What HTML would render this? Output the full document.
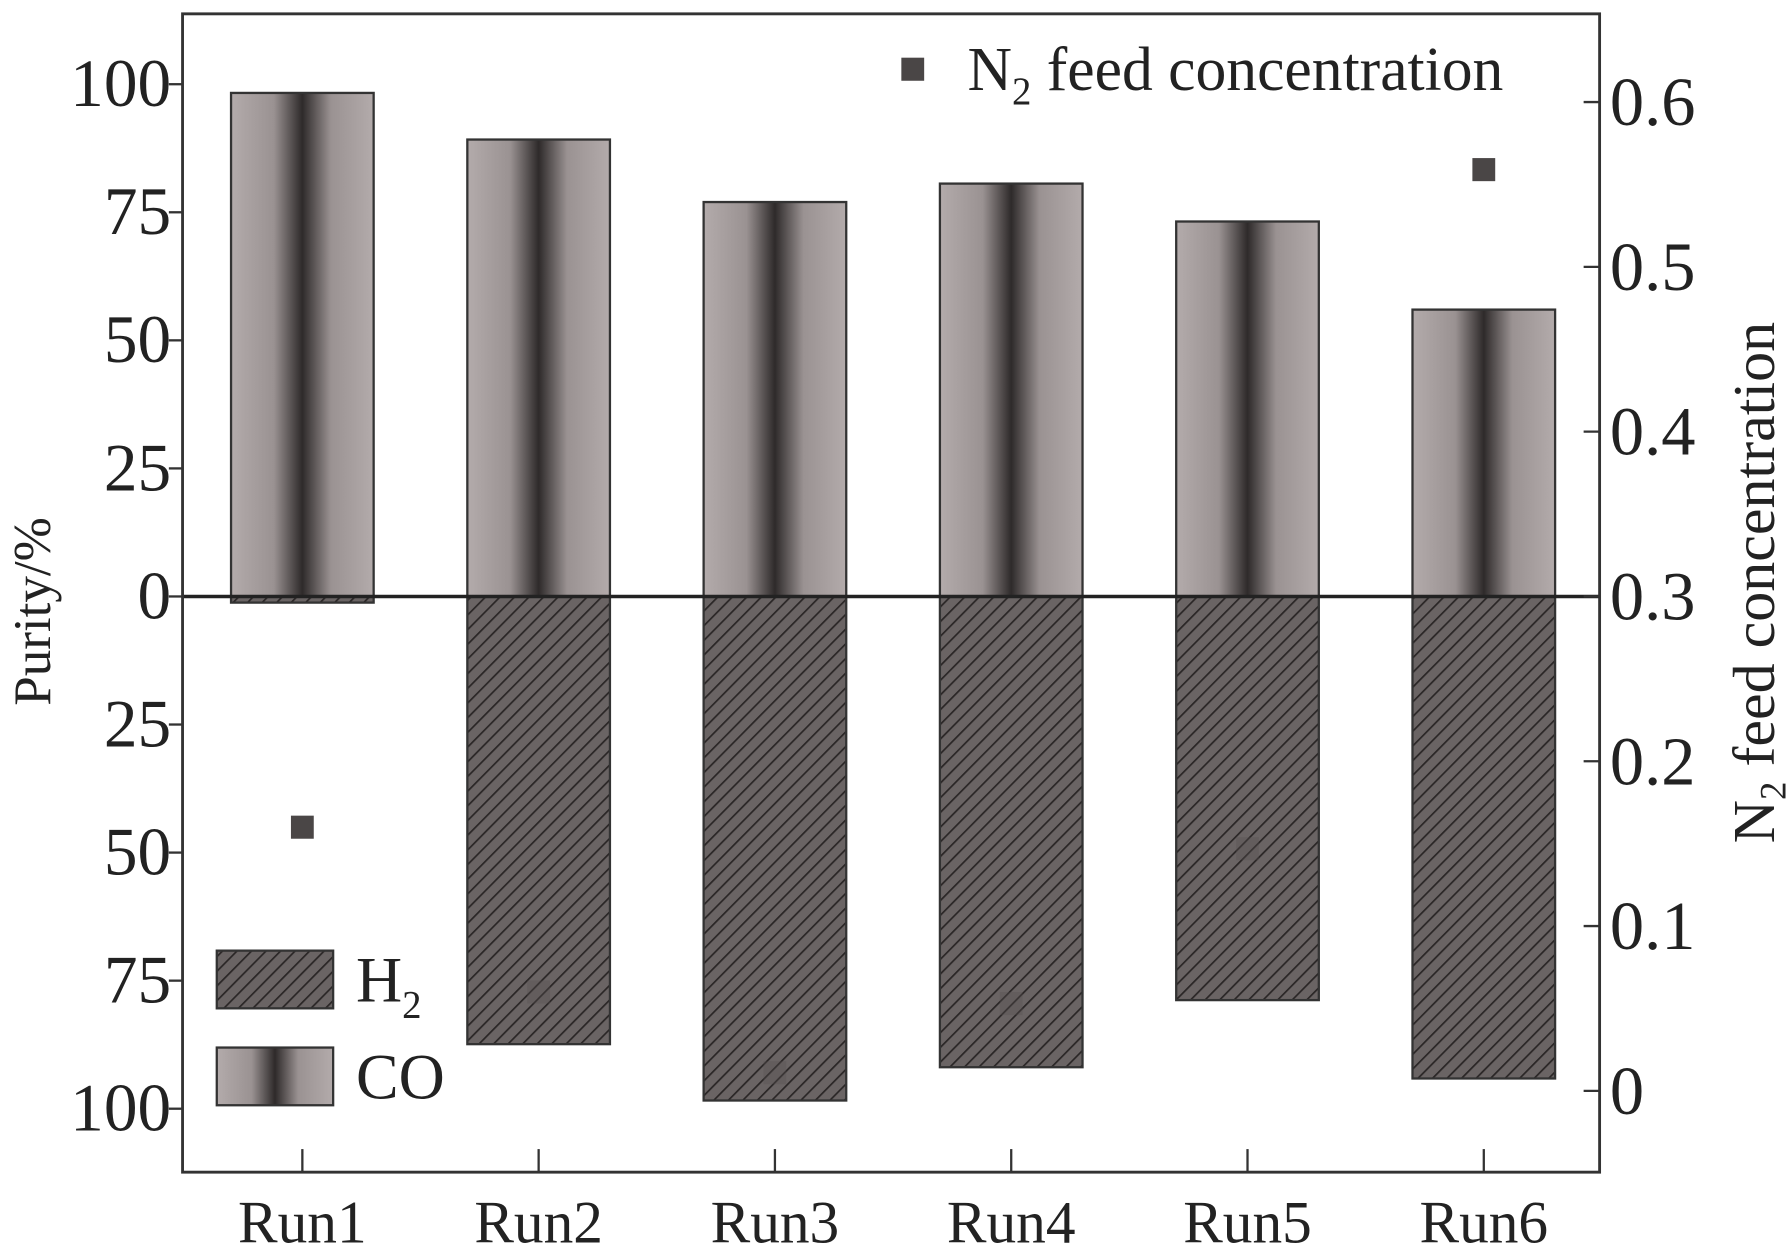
<!DOCTYPE html>
<html><head><meta charset="utf-8"><style>
html,body{margin:0;padding:0;background:#fff;}
svg{display:block;}
text{font-family:"Liberation Serif",serif;fill:#222;}
</style></head><body>
<svg id="chart" width="1789" height="1246" viewBox="0 0 1568 1080" preserveAspectRatio="none" xmlns="http://www.w3.org/2000/svg">
<defs>
<linearGradient id="coGrad" x1="0" x2="1" y1="0" y2="0">
<stop offset="0" stop-color="#b3abab"/><stop offset="0.3" stop-color="#9a9292"/>
<stop offset="0.5" stop-color="#2e2a2a"/><stop offset="0.7" stop-color="#9a9292"/>
<stop offset="1" stop-color="#b3abab"/></linearGradient>
<pattern id="hatch" width="9" height="9" patternUnits="userSpaceOnUse" patternTransform="rotate(45)">
<rect width="9" height="9" fill="#6a6464"/><line x1="0" y1="0" x2="0" y2="9" stroke="#2a2626" stroke-width="3"/></pattern>
</defs>
<g id="marks"></g>
</svg>
<script>
const categories=["Run1","Run2","Run3","Run4","Run5","Run6"];
const coValues=[98.3,89.2,77,80.6,73.2,56];
const h2Values=[1.2,87.4,98.4,91.9,78.8,94.1];
const n2Values=[0.16,0.06,0.011,0.053,0.147,0.559];
const leftTicks=[100,75,50,25,0,25,50,75,100];
const leftTickVals=[100,75,50,25,0,-25,-50,-75,-100];
const rightTicks=["0","0.1","0.2","0.3","0.4","0.5","0.6"];
const rightTickVals=[0,0.1,0.2,0.3,0.4,0.5,0.6];

const NS="http://www.w3.org/2000/svg";
const svg=document.getElementById('chart');
const L=160,R=1402,T=12,B=1016;
const yL=v=>517-v*4.44;
const yR=v=>517-(v-0.3)*1428.5;
const xC=i=>265+i*207.1;
const BW=125;
function mk(tag,attrs,parent){const e=document.createElementNS(NS,tag);for(const k in attrs)e.setAttribute(k,attrs[k]);(parent||svg).appendChild(e);return e;}

categories.forEach((c,i)=>{
  const co=mk('rect',{x:xC(i)-BW/2,y:yL(coValues[i]),width:BW,height:yL(0)-yL(coValues[i]),fill:'url(#coGrad)',stroke:'#333','stroke-width':2});
  
  
  const h=mk('rect',{x:xC(i)-BW/2,y:yL(0),width:BW,height:yL(-h2Values[i])-yL(0),fill:'url(#hatch)',stroke:'#333','stroke-width':2});
  
  
  const p=mk('rect',{x:xC(i)-10,y:yR(n2Values[i])-10,width:20,height:20,fill:i===0||i===5?'#4a4646':'#555050',opacity:i===0||i===5?1:0.35});
  
  
  const tk=mk('line',{x1:xC(i),x2:xC(i),y1:B-20,y2:B,stroke:'#333','stroke-width':2});
  
  
  const t=mk('text',{x:xC(i),y:1077,'text-anchor':'middle','font-size':52});
  t.textContent=c;
  
  
});
const z=mk('line',{x1:L,x2:R,y1:517,y2:517,stroke:'#222','stroke-width':3});

const fr=mk('rect',{x:L,y:T,width:R-L,height:B-T,fill:'none',stroke:'#333','stroke-width':2.5});

leftTickVals.forEach((v,i)=>{
  const tk=mk('line',{x1:L-12,x2:L,y1:yL(v),y2:yL(v),stroke:'#333','stroke-width':2});
  
  const t=mk('text',{x:150,y:yL(v)+19,'text-anchor':'end','font-size':59});
  t.textContent=leftTicks[i];
  
});
rightTickVals.forEach((v,i)=>{
  const tk=mk('line',{x1:R,x2:R-14,y1:yR(v),y2:yR(v),stroke:'#333','stroke-width':2});
  
  const t=mk('text',{x:1411,y:yR(v)+20,'font-size':60});
  t.textContent=rightTicks[i];
  
});
</script>
<script>
(function(){
const NS="http://www.w3.org/2000/svg";const svg=document.getElementById('chart');
function mk(tag,attrs){const e=document.createElementNS(NS,tag);for(const k in attrs)e.setAttribute(k,attrs[k]);svg.appendChild(e);return e;}
let t=mk('text',{x:44,y:530,'text-anchor':'middle','font-size':46,transform:'rotate(-90 44 530)'});t.textContent='Purity/%';

t=mk('text',{x:1555,y:505,'text-anchor':'middle','font-size':52,transform:'rotate(-90 1555 505)'});
t.innerHTML='N<tspan font-size="32" dy="10">2</tspan><tspan dy="-10"> feed concentration</tspan>';

let m=mk('rect',{x:790,y:50,width:20,height:20,fill:'#4a4646'});

t=mk('text',{x:848,y:78,'font-size':54});
t.innerHTML='N<tspan font-size="34" dy="12">2</tspan><tspan dy="-12"> feed concentration</tspan>';

m=mk('rect',{x:190,y:824,width:102,height:50,fill:'url(#hatch)',stroke:'#333','stroke-width':2});

t=mk('text',{x:312,y:868,'font-size':56});
t.innerHTML='H<tspan font-size="34" dy="14">2</tspan>';

m=mk('rect',{x:190,y:908,width:102,height:50,fill:'url(#coGrad)',stroke:'#333','stroke-width':2});

t=mk('text',{x:312,y:952,'font-size':56});t.textContent='CO';

})();
</script>
</body></html>
